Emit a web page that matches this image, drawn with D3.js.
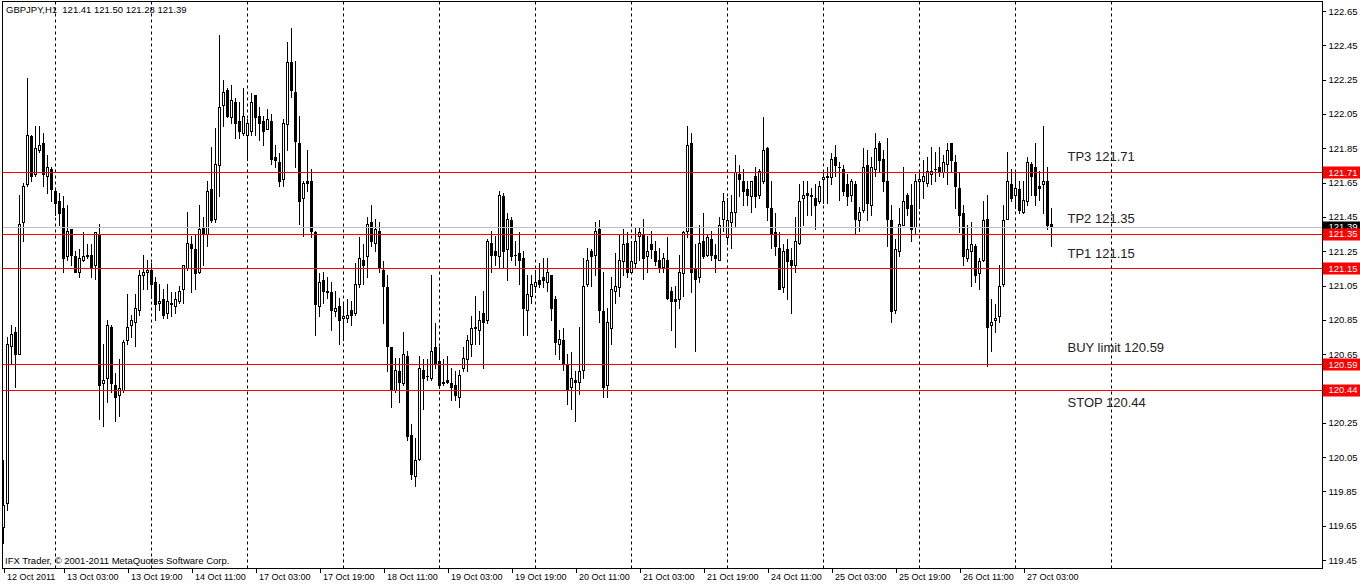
<!DOCTYPE html>
<html><head><meta charset="utf-8">
<script src="https://cdn.jsdelivr.net/npm/d3@7"></script>
<style>html,body{margin:0;padding:0;background:#fff;}svg{display:block;}</style>
</head><body><svg id="c" width="1360" height="586"></svg>
<script>
const symbol = "GBPJPY,H1";
const copyright = "IFX Trader, \u00a9 2001-2011 MetaQuotes Software Corp.";

const openP = [119.64,119.78,120.70,120.78,120.65,121.42,121.64,121.92,121.70,121.84,
121.88,121.69,121.73,121.60,121.54,121.50,121.22,121.38,121.22,121.13,
121.20,121.23,121.23,121.17,121.35,120.48,120.51,120.81,120.47,120.41,
120.44,120.73,120.82,120.84,120.91,121.11,121.13,121.14,121.07,120.95,
120.97,120.89,120.95,120.93,120.96,121.03,121.15,121.29,121.26,121.13,
121.39,121.35,121.61,121.44,121.75,122.10,122.19,122.03,122.12,122.01,
121.94,121.93,121.95,122.16,122.04,122.01,121.96,122.01,121.80,121.77,
121.67,121.99,122.35,122.18,121.88,121.56,121.66,121.66,121.36,120.93,
121.08,121.01,121.01,120.90,120.93,120.86,120.86,120.91,120.89,121.06,
121.20,121.22,121.42,121.30,121.37,121.14,121.04,120.69,120.44,120.55,
120.48,120.64,120.18,119.94,120.04,120.56,120.52,120.51,120.69,120.61,
120.48,120.50,120.48,120.47,120.40,120.57,120.62,120.71,120.81,120.79,
120.89,120.85,121.30,121.25,121.22,121.57,121.26,121.43,121.23,121.24,
121.21,120.91,120.99,121.05,121.08,121.10,121.07,121.11,120.97,120.71,
120.73,120.59,120.46,120.50,120.49,120.56,121.06,121.25,121.23,121.38,
120.90,120.47,120.80,121.02,121.04,121.19,121.30,121.13,121.18,121.34,
121.35,121.22,121.29,121.25,121.20,121.16,121.20,121.02,120.97,120.97,
121.12,121.37,121.88,121.15,121.10,121.31,121.23,121.32,121.23,121.20,
121.44,121.33,121.42,121.48,121.70,121.66,121.61,121.57,121.69,121.58,
121.66,121.85,121.50,121.36,121.27,121.04,121.26,121.20,121.17,121.30,
121.56,121.59,121.58,121.56,121.54,121.67,121.68,121.68,121.80,121.74,
121.73,121.64,121.58,121.64,121.43,121.49,121.75,121.52,121.73,121.88,
121.79,121.66,121.43,120.91,121.25,121.40,121.58,121.52,121.39,121.66,
121.66,121.65,121.70,121.73,121.74,121.71,121.76,121.88,121.77,121.62,
121.47,121.21,121.25,121.28,121.12,121.20,121.44,120.82,120.85,120.87,
121.06,121.44,121.64,121.58,121.61,121.48,121.54,121.76,121.74,121.63,
121.64,121.66,121.41];

const highP = [120.03,120.75,120.82,120.81,121.58,121.65,122.26,121.93,121.98,121.98,
121.94,121.81,121.74,121.62,121.59,121.57,121.52,121.38,121.25,121.26,
121.36,121.29,121.29,121.36,121.41,120.71,120.85,120.82,120.54,120.62,
120.73,121.00,120.88,121.00,121.14,121.23,121.20,121.18,121.10,121.06,
121.03,121.06,121.01,121.01,121.05,121.17,121.48,121.34,121.35,121.52,
121.45,121.66,121.86,121.97,122.51,122.25,122.20,122.22,122.14,122.12,
122.20,122.02,122.17,122.16,122.09,122.04,122.08,122.05,121.87,121.82,
122.02,122.47,122.55,122.36,122.04,121.66,121.84,121.73,121.37,121.12,
121.13,121.10,121.07,121.02,120.98,120.95,120.97,120.96,121.18,121.33,
121.29,121.45,121.52,121.44,121.42,121.19,121.11,120.69,120.63,120.63,
120.78,120.67,120.24,120.16,120.64,120.62,120.62,121.11,120.83,120.69,
120.62,120.64,120.57,120.55,120.56,120.69,120.76,120.87,120.99,120.90,
121.02,121.32,121.37,121.34,121.60,121.59,121.47,121.45,121.31,121.36,
121.25,121.11,121.11,121.14,121.18,121.21,121.21,121.11,120.99,120.79,
120.80,120.65,120.66,120.55,120.81,121.21,121.27,121.26,121.42,121.43,
121.13,120.92,121.10,121.24,121.35,121.38,121.36,121.31,121.39,121.39,
121.44,121.34,121.37,121.31,121.27,121.24,121.33,121.04,121.05,121.23,
121.37,121.98,121.94,121.29,121.40,121.47,121.35,121.37,121.29,121.45,
121.59,121.56,121.58,121.81,121.75,121.73,121.66,121.66,121.74,121.73,
122.03,121.86,121.66,121.47,121.36,121.29,121.32,121.27,121.45,121.64,
121.66,121.66,121.62,121.64,121.66,121.72,121.74,121.82,121.87,121.77,
121.75,121.70,121.67,121.66,121.51,121.85,121.84,121.80,121.94,121.89,
121.84,121.91,121.52,121.32,121.50,121.74,121.59,121.64,121.70,121.71,
121.78,121.80,121.86,121.83,121.86,121.81,121.88,121.88,121.81,121.71,
121.52,121.40,121.42,121.29,121.21,121.54,121.58,120.97,120.94,121.17,
121.52,121.83,121.73,121.71,121.66,121.66,121.80,121.77,121.88,121.72,
121.98,121.74,121.50];

const lowP = [119.55,119.74,120.59,120.46,120.65,121.31,121.63,121.66,121.69,121.83,
121.63,121.59,121.54,121.46,121.40,121.13,121.20,121.17,121.13,121.10,
121.19,121.21,121.10,121.09,120.27,120.23,120.37,120.43,120.26,120.29,
120.43,120.71,120.75,120.70,120.88,121.03,121.03,120.98,120.85,120.91,
120.86,120.86,120.87,120.89,120.95,120.95,121.14,121.01,121.03,121.12,
121.17,121.28,121.42,121.42,121.57,121.98,122.03,122.00,121.91,121.91,
121.93,121.78,121.93,121.93,121.90,121.87,121.96,121.76,121.74,121.63,
121.63,121.84,122.15,121.74,121.41,121.34,121.60,121.33,120.76,120.87,
120.95,120.98,120.79,120.87,120.71,120.73,120.84,120.82,120.88,121.04,
121.06,121.10,121.28,121.25,121.13,120.83,120.55,120.34,120.43,120.37,
120.47,120.15,119.92,119.88,120.03,120.33,120.50,120.50,120.57,120.45,
120.47,120.48,120.38,120.38,120.34,120.55,120.55,120.64,120.71,120.71,
120.57,120.83,121.13,121.17,121.15,121.15,121.08,121.20,121.17,121.06,
120.76,120.76,120.95,121.01,121.04,121.04,121.02,120.85,120.65,120.62,
120.56,120.36,120.33,120.26,120.42,120.51,121.05,121.05,121.11,120.84,
120.40,120.40,120.71,120.95,120.99,121.11,121.10,121.13,121.15,121.20,
121.09,121.13,121.21,121.17,121.13,121.13,120.97,120.79,120.69,120.92,
120.99,121.33,121.01,120.67,121.07,121.21,121.22,121.20,121.13,121.20,
121.37,121.29,121.27,121.39,121.57,121.52,121.52,121.48,121.51,121.56,
121.65,121.43,121.27,121.23,121.03,121.01,120.97,120.89,121.13,121.29,
121.40,121.46,121.46,121.38,121.53,121.53,121.53,121.64,121.69,121.55,
121.58,121.52,121.54,121.35,121.37,121.48,121.43,121.46,121.69,121.71,
121.60,121.28,120.84,120.89,121.22,121.40,121.46,121.31,121.35,121.50,
121.56,121.63,121.64,121.66,121.69,121.68,121.64,121.71,121.50,121.36,
121.17,121.19,121.05,121.07,121.03,121.19,120.58,120.67,120.78,120.84,
121.05,121.44,121.54,121.50,121.47,121.47,121.52,121.58,121.52,121.55,
121.47,121.38,121.28];

const closeP = [119.77,120.71,120.77,120.65,121.41,121.63,121.93,121.69,121.85,121.87,
121.70,121.74,121.61,121.53,121.47,121.21,121.37,121.23,121.13,121.21,
121.22,121.22,121.16,121.36,120.47,120.50,120.82,120.48,120.40,120.45,
120.72,120.81,120.85,120.92,121.11,121.13,121.14,121.06,120.94,120.96,
120.88,120.96,120.94,120.97,121.02,121.17,121.30,121.27,121.12,121.38,
121.35,121.60,121.43,121.76,122.09,122.18,122.04,122.13,122.00,121.95,
122.04,122.00,122.12,122.03,122.00,121.95,122.02,121.79,121.78,121.66,
122.00,122.35,122.19,121.89,121.54,121.65,121.65,121.37,120.94,121.07,
121.02,121.02,120.91,120.92,120.85,120.87,120.88,120.88,121.06,121.21,
121.17,121.41,121.31,121.38,121.16,121.05,120.70,120.44,120.56,120.49,
120.65,120.17,119.95,120.03,120.57,120.51,120.52,120.67,120.59,120.47,
120.49,120.49,120.46,120.41,120.53,120.63,120.73,120.80,120.80,120.85,
120.84,121.31,121.23,121.23,121.58,121.25,121.44,121.22,121.23,121.20,
120.92,121.00,121.06,121.07,121.06,121.08,121.13,120.92,120.72,120.74,
120.59,120.44,120.51,120.49,120.55,121.05,121.20,121.22,121.37,120.91,
120.46,120.84,121.03,121.05,121.20,121.29,121.13,121.19,121.31,121.36,
121.21,121.25,121.26,121.19,121.15,121.21,120.98,120.96,120.96,121.13,
121.36,121.87,121.13,121.09,121.30,121.22,121.33,121.23,121.21,121.40,
121.54,121.43,121.48,121.71,121.67,121.60,121.58,121.66,121.57,121.72,
121.84,121.51,121.35,121.28,121.03,121.25,121.19,121.17,121.31,121.54,
121.58,121.58,121.57,121.52,121.63,121.68,121.69,121.79,121.75,121.74,
121.60,121.57,121.66,121.44,121.48,121.74,121.53,121.74,121.85,121.78,
121.66,121.44,120.90,121.26,121.41,121.54,121.50,121.38,121.66,121.67,
121.69,121.72,121.72,121.73,121.72,121.77,121.84,121.78,121.63,121.46,
121.22,121.26,121.29,121.11,121.19,121.43,120.81,120.84,120.86,121.05,
121.43,121.66,121.56,121.62,121.49,121.55,121.77,121.69,121.58,121.62,
121.66,121.40,121.39];

const priceTicks = [122.65,122.45,122.25,122.05,121.85,121.65,121.45,121.25,121.05,120.85,120.65,120.45,120.25,120.05,119.85,119.65,119.45];
const timeTickBars = [0,15,31,47,63,79,95,111,127,143,159,175,191,207,223,239,255];
const timeTickLabels = ["12 Oct 2011","13 Oct 03:00","13 Oct 19:00","14 Oct 11:00","17 Oct 03:00","17 Oct 19:00","18 Oct 11:00","19 Oct 03:00","19 Oct 19:00","20 Oct 11:00","21 Oct 03:00","21 Oct 19:00","24 Oct 11:00","25 Oct 03:00","25 Oct 19:00","26 Oct 11:00","27 Oct 03:00"];
const gridBars = [13,37,61,85,109,133,157,181,205,229,253,277];
const levelPrices = [121.71,121.35,121.15,120.59,120.44];
const levelNames = ["TP3 121.71","TP2 121.35","TP1 121.15","BUY limit 120.59","STOP 120.44"];
const levelTextPrices = [121.80,121.44,121.235,120.69,120.37];
const levelTextBar = 266;
const bidPrice = 121.39;

const W = 1360, H = 586;
const plot = {left: 2.5, top: 1.5, right: 1322.5, bottom: 568.5};
const FONT = "'Liberation Sans', Arial, sans-serif";

const svg = d3.select("#c");
const x = d3.scaleLinear().domain([0, 1]).range([3.5, 7.5]);
const y = d3.scaleLinear().domain([119.45, 122.65]).range([560, 11]);

const bars = openP.map((o, i) => ({i, o, h: highP[i], l: lowP[i], c: closeP[i]}));

// grid
svg.append("g").selectAll("line").data(gridBars).join("line")
  .attr("x1", d => x(d)).attr("x2", d => x(d))
  .attr("y1", plot.top).attr("y2", plot.bottom)
  .attr("stroke", "#000").attr("stroke-width", 1).attr("stroke-dasharray", "3,3");

// candles
const cg = svg.append("g").attr("shape-rendering", "crispEdges");
cg.selectAll("line").data(bars).join("line")
  .attr("x1", d => x(d.i)).attr("x2", d => x(d.i))
  .attr("y1", d => Math.round(y(d.h))).attr("y2", d => Math.round(y(d.l)) + 1)
  .attr("stroke", "#000").attr("stroke-width", 1);

bars.forEach(d => {
  const cx = x(d.i);
  const top = Math.round(y(Math.max(d.o, d.c)));
  const bot = Math.round(y(Math.min(d.o, d.c)));
  if (d.c > d.o) {
    cg.append("rect").attr("x", cx - 1).attr("y", top + 0.5)
      .attr("width", 2).attr("height", Math.max(1, bot - top))
      .attr("fill", "#fff").attr("stroke", "#000").attr("stroke-width", 1);
  } else if (d.c < d.o) {
    cg.append("rect").attr("x", cx - 1.5).attr("y", top)
      .attr("width", 3).attr("height", Math.max(1, bot - top + 1))
      .attr("fill", "#000");
  } else {
    cg.append("rect").attr("x", cx - 1.5).attr("y", top)
      .attr("width", 3).attr("height", 1).attr("fill", "#000");
  }
});

// level lines
const lg = svg.append("g").attr("shape-rendering", "crispEdges");
lg.append("line").attr("x1", plot.left).attr("x2", plot.right)
  .attr("y1", Math.round(y(bidPrice)) + 0.5).attr("y2", Math.round(y(bidPrice)) + 0.5)
  .attr("stroke", "#c0c0c0");
lg.selectAll("line.lvl").data(levelPrices).join("line").attr("class", "lvl")
  .attr("x1", plot.left).attr("x2", plot.right)
  .attr("y1", d => Math.round(y(d)) + 0.5).attr("y2", d => Math.round(y(d)) + 0.5)
  .attr("stroke", "#ff0000");

// level annotations
svg.append("g").selectAll("text").data(levelNames).join("text")
  .attr("x", x(levelTextBar)).attr("y", (d, i) => y(levelTextPrices[i]))
  .attr("dy", "0.35em").attr("font-family", FONT).attr("font-size", 13)
  .attr("fill", "#222").text(d => d);

// frame
svg.append("rect").attr("x", plot.left).attr("y", plot.top)
  .attr("width", plot.right - plot.left).attr("height", plot.bottom - plot.top)
  .attr("fill", "none").attr("stroke", "#000").attr("shape-rendering", "crispEdges");

// price axis
const ya = svg.append("g").attr("transform", `translate(${plot.right},0)`)
  .call(d3.axisRight(y).tickValues(priceTicks).tickSize(3).tickPadding(3).tickFormat(d3.format(".2f")));
ya.select(".domain").remove();
ya.selectAll("text").attr("font-family", FONT).attr("font-size", 9.5).attr("fill", "#000");
ya.selectAll("line").attr("stroke", "#000").attr("shape-rendering", "crispEdges");

// price labels
function priceLabel(p, bg) {
  const g = svg.append("g");
  g.append("rect").attr("x", plot.right + 0.5).attr("y", Math.round(y(p)) - 5.5)
    .attr("width", W - plot.right).attr("height", 12).attr("fill", bg);
  g.append("text").attr("x", plot.right + 6).attr("y", y(p)).attr("dy", "0.35em")
    .attr("font-family", FONT).attr("font-size", 9.5).attr("fill", "#fff")
    .text(d3.format(".2f")(p));
}
priceLabel(bidPrice, "#000");
levelPrices.forEach(p => priceLabel(p, "#ff0000"));

// time axis
const xa = svg.append("g").attr("transform", `translate(0,${plot.bottom})`)
  .call(d3.axisBottom(x).tickValues(timeTickBars).tickSize(4).tickFormat((d, i) => timeTickLabels[i]));
xa.select(".domain").remove();
xa.selectAll("text").attr("font-family", FONT).attr("font-size", 9).attr("fill", "#000")
  .attr("text-anchor", "start").attr("x", 3).attr("y", 5);
xa.selectAll("line").attr("stroke", "#000").attr("shape-rendering", "crispEdges");

// title and copyright
const last = bars[bars.length - 1];
const f2 = d3.format(".2f");
svg.append("text").attr("x", 6).attr("y", 10).attr("dy", "0.35em")
  .attr("font-family", FONT).attr("font-size", 9.5).attr("fill", "#000")
  .attr("xml:space", "preserve")
  .text(`${symbol}  ${f2(last.o)} ${f2(last.h)} ${f2(last.l)} ${f2(last.c)}`);
svg.append("text").attr("x", 5).attr("y", 561).attr("dy", "0.35em")
  .attr("font-family", FONT).attr("font-size", 9.5).attr("fill", "#000")
  .text(copyright);
</script></body></html>
